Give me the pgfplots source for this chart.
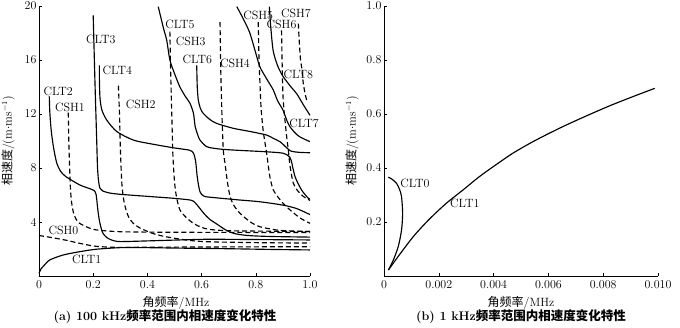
\documentclass[border=0pt]{standalone}
\usepackage{pgfplots}
\pgfplotsset{compat=1.18}
\usepackage{fontspec}
\newfontfamily\cjk{Noto Sans CJK SC}
\begin{document}
\begin{tikzpicture}
\useasboundingbox (0pt,0pt) rectangle (680pt,327pt);
\tikzset{lab/.style={font=\fontsize{12}{13}\selectfont, inner sep=0pt}}
\pgfplotsset{
  myax/.style={
    scale only axis, height=270pt,
    axis x line*=bottom, axis y line*=left,
    axis line style={line width=0.7pt, -},
    tick align=inside, major tick length=3pt,
    tick style={line width=0.6pt, black},
    ticklabel style={font=\fontsize{12}{13}\selectfont},
    xticklabel style={yshift=-1pt},
    yticklabel style={xshift=1pt},
    scaled ticks=false, clip=false,
  },
  sol/.style={black, line width=1.15pt, smooth, tension=0.45},
  das/.style={black, line width=1.15pt, dash pattern=on 5pt off 3pt, smooth, tension=0.45},
}
% ---------------- (a) ----------------
\begin{axis}[myax, at={(39pt,51pt)}, anchor=south west, width=271pt,
  xmin=0, xmax=1, ymin=0, ymax=20,
  xtick={0,0.2,0.4,0.6,0.8,1.0}, xticklabels={0,0.2,0.4,0.6,0.8,1.0},
  ytick={4,8,12,16,20}, yticklabels={4,8,12,16,20}]
% CLT1
\addplot[sol] coordinates {(0,0.2) (0.008,0.55) (0.016,0.72) (0.04,1.19) (0.09,1.56) (0.15,1.8) (0.21,1.98) (0.3,2.1) (0.4,2.1) (0.5,2.07) (0.7,2.02) (0.85,1.97) (1.0,1.93)};
% CSH0
\addplot[das] coordinates {(0,3.0) (0.04,2.87) (0.1,2.65) (0.15,2.42) (0.21,2.2) (0.29,2.12) (0.4,2.13) (0.6,2.15) (0.8,2.16) (1.0,2.17)};
% CLT2
\addplot[sol] coordinates {(0.038,13.3) (0.04,12.1) (0.045,10.8) (0.053,9.6) (0.065,8.4) (0.08,7.75) (0.1,7.35) (0.15,6.75) (0.19,6.45) (0.205,6.3) (0.211,6.0) (0.215,5.3) (0.219,4.6) (0.225,3.9) (0.235,3.2) (0.25,2.85) (0.27,2.65) (0.3,2.55) (0.4,2.6) (0.5,2.66) (0.62,2.72) (0.8,2.7) (1.0,2.67)};
% CLT3
\addplot[sol] coordinates {(0.2,19.3) (0.203,17) (0.207,14) (0.21,12) (0.213,10) (0.216,8) (0.22,7.0) (0.225,6.5) (0.235,6.3) (0.26,6.15) (0.3,6.05) (0.4,5.9) (0.5,5.75) (0.56,5.62) (0.575,5.45) (0.59,5.1) (0.61,4.6) (0.63,4.2) (0.656,3.85) (0.69,3.4) (0.72,3.15) (0.77,3.0) (0.85,2.93) (1.0,2.88)};
% CLT4
\addplot[sol] coordinates {(0.2226,15.6) (0.223,14.5) (0.225,13.2) (0.232,12.3) (0.25,11.55) (0.287,10.7) (0.348,10.07) (0.41,9.8) (0.495,9.5) (0.555,9.32) (0.57,9.1) (0.578,8.5) (0.583,7.5) (0.588,6.8) (0.595,6.2) (0.61,5.9) (0.65,5.8) (0.74,5.63) (0.815,5.5) (0.9,5.25) (0.95,5.0) (1.0,4.55)};
% CLT5
\addplot[sol] coordinates {(0.44,19.95) (0.46,18.3) (0.471,17.5) (0.483,16) (0.5,15) (0.52,14.0) (0.54,13.3) (0.557,12.8) (0.57,12.05) (0.576,11.1) (0.585,10.5) (0.594,10.07) (0.619,9.58) (0.66,9.42) (0.717,9.33) (0.84,9.2) (0.9,9.1) (0.92,8.9) (0.93,8.6) (0.945,7.35) (0.969,6.37) (0.994,5.75) (1.0,5.7)};
% CLT6
\addplot[sol] coordinates {(0.582,15.6) (0.584,14) (0.588,13.0) (0.596,12.4) (0.606,12.05) (0.63,11.6) (0.656,11.3) (0.717,10.94) (0.78,10.7) (0.84,10.44) (0.864,10.2) (0.889,9.95) (0.914,9.5) (0.93,9.25) (0.96,9.16) (1.0,9.13)};
% CLT7
\addplot[sol] coordinates {(0.73,19.95) (0.755,19) (0.778,18.0) (0.8,16.5) (0.815,15.5) (0.84,14.6) (0.864,13.8) (0.88,13) (0.90,12.3) (0.915,11.5) (0.926,11.06) (0.945,10.6) (0.963,10.3) (1.0,9.95)};
% CLT8
\addplot[sol] coordinates {(0.85,19.95) (0.855,18.5) (0.864,16.7) (0.88,15.6) (0.90,14.8) (0.93,14.0) (0.951,13.5) (0.975,12.7) (1.0,11.9)};
% CSH1
\addplot[das] coordinates {(0.108,12.1) (0.11,10) (0.113,8) (0.116,6.5) (0.12,5.5) (0.127,4.7) (0.137,4.2) (0.15,3.9) (0.18,3.6) (0.21,3.42) (0.3,3.28) (0.5,3.24) (1.0,3.22)};
% CSH2
\addplot[das] coordinates {(0.293,14.1) (0.297,12) (0.30,9.6) (0.305,7.1) (0.31,6.0) (0.317,5.2) (0.33,4.4) (0.348,3.9) (0.373,3.55) (0.42,3.15) (0.47,2.9) (0.55,2.65) (0.62,2.54) (0.8,2.47) (1.0,2.44)};
% CSH3
\addplot[das] coordinates {(0.483,18.1) (0.486,15) (0.49,12) (0.494,9) (0.5,7) (0.507,5.9) (0.52,4.9) (0.545,4.3) (0.57,3.9) (0.6,3.6) (0.63,3.45) (0.7,3.35) (0.85,3.32) (1.0,3.3)};
% CSH4
\addplot[das] coordinates {(0.668,18.8) (0.671,15) (0.675,12) (0.68,9.33) (0.686,8.4) (0.695,7) (0.705,5.9) (0.72,5.2) (0.742,4.64) (0.78,4.0) (0.815,3.65) (0.88,3.4) (0.94,3.33) (1.0,3.3)};
% CSH5
\addplot[das] coordinates {(0.809,18.8) (0.812,16) (0.817,13.5) (0.82,12.3) (0.827,10.8) (0.834,9.85) (0.84,9.09) (0.852,7.35) (0.864,6.4) (0.88,5.9) (0.9,5.4) (0.926,4.9) (0.963,4.3) (1.0,3.9)};
% CSH6
\addplot[das] coordinates {(0.895,18.2) (0.897,16) (0.9,13.5) (0.904,12.3) (0.914,10.3) (0.92,9.33) (0.926,8.2) (0.938,6.9) (0.955,6.3) (0.975,5.9) (1.0,5.6)};
% CSH7
\addplot[das] coordinates {(0.957,18.7) (0.96,17.5) (0.965,16) (0.969,15.5) (0.975,14.3) (0.982,13.5) (0.988,13.0)};
% labels
\node[lab] at (axis cs:0.071,13.7) {CLT2};
\node[lab] at (axis cs:0.114,12.5) {CSH1};
\node[lab] at (axis cs:0.228,17.5) {CLT3};
\node[lab] at (axis cs:0.289,15.25) {CLT4};
\node[lab] at (axis cs:0.375,12.7) {CSH2};
\node[lab] at (axis cs:0.52,18.6) {CLT5};
\node[lab] at (axis cs:0.56,17.35) {CSH3};
\node[lab] at (axis cs:0.584,16.07) {CLT6};
\node[lab] at (axis cs:0.723,15.75) {CSH4};
\node[lab] at (axis cs:0.809,19.33) {CSH5};
\node[lab] at (axis cs:0.895,18.6) {CSH6};
\node[lab] at (axis cs:0.948,19.46) {CSH7};
\node[lab] at (axis cs:0.957,14.96) {CLT8};
\node[lab] at (axis cs:0.978,11.3) {CLT7};
\node[lab] at (axis cs:0.09,3.36) {CSH0};
\node[lab] at (axis cs:0.176,1.24) {CLT1};
\end{axis}
% ---------------- (b) ----------------
\begin{axis}[myax, at={(384pt,51pt)}, anchor=south west, width=274pt,
  xmin=0, xmax=0.010, ymin=0, ymax=1,
  xtick={0,0.002,0.004,0.006,0.008,0.010}, xticklabels={0,0.002,0.004,0.006,0.008,0.010},
  ytick={0.2,0.4,0.6,0.8,1.0}, yticklabels={0.2,0.4,0.6,0.8,1.0}]
% CLT1
\addplot[sol] coordinates {(0.00016,0.022) (0.0005,0.07) (0.00107,0.146) (0.00165,0.21) (0.00227,0.269) (0.0029,0.32) (0.00348,0.368) (0.0041,0.413) (0.00469,0.454) (0.0053,0.49) (0.0059,0.522) (0.0065,0.552) (0.0071,0.580) (0.0077,0.607) (0.0083,0.633) (0.0091,0.665) (0.00988,0.695)};
% CLT0
\addplot[sol] coordinates {(0.00016,0.366) (0.0003,0.358) (0.00046,0.343) (0.00057,0.32) (0.00064,0.294) (0.00068,0.232) (0.00064,0.17) (0.00052,0.109) (0.00034,0.059) (0.00016,0.022)};
\node[lab] at (axis cs:0.00113,0.343) {CLT0};
\node[lab] at (axis cs:0.00295,0.269) {CLT1};
\end{axis}
% axis labels and captions
\node[rotate=90, font=\fontsize{12}{13}\selectfont] at (8pt,186pt) {{\cjk 相速度}/(m$\cdot$ms$^{-1}$)};
\node[rotate=90, font=\fontsize{12}{13}\selectfont] at (352pt,186pt) {{\cjk 相速度}/(m$\cdot$ms$^{-1}$)};
\node[font=\fontsize{12}{13}\selectfont] at (176pt,24.5pt) {{\cjk 角频率}/MHz};
\node[font=\fontsize{12}{13}\selectfont] at (521pt,24.5pt) {{\cjk 角频率}/MHz};
\node[font=\fontsize{12.5}{13}\selectfont\bfseries] at (165pt,10.5pt) {(a) 100 kHz{\cjk 频率范围内相速度变化特性}};
\node[font=\fontsize{12.5}{13}\selectfont\bfseries] at (521pt,10.5pt) {(b) 1 kHz{\cjk 频率范围内相速度变化特性}};
\end{tikzpicture}
\end{document}
